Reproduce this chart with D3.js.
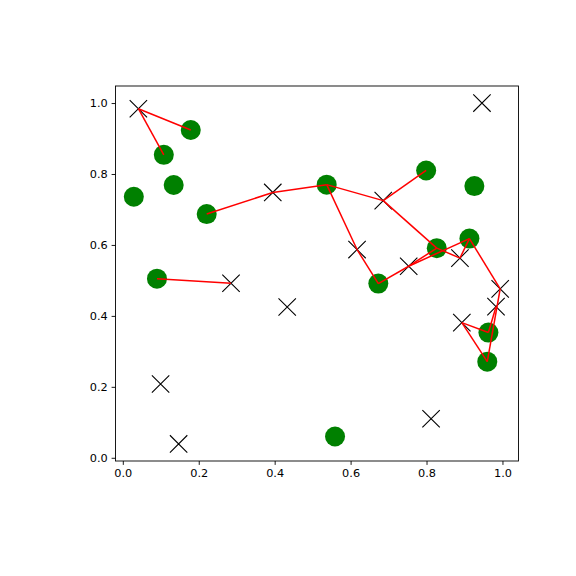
<!DOCTYPE html>
<html>
<head>
<meta charset="utf-8">
<script src="https://cdn.jsdelivr.net/npm/d3@7"></script>
<style>
  body { margin: 0; background: #fff; }
  text { font-family: "DejaVu Sans", sans-serif; }
</style>
</head>
<body>
<div id="chart"></div>
<script>
// green circles
var circleX = [0.179, 0.108, 0.134, 0.029, 0.221, 0.090, 0.537, 0.799, 0.926, 0.827, 0.913, 0.673, 0.963, 0.960, 0.559];
var circleY = [0.924, 0.854, 0.769, 0.736, 0.687, 0.505, 0.770, 0.810, 0.766, 0.591, 0.618, 0.491, 0.353, 0.271, 0.060];

// black crosses
var crossX = [0.041, 0.395, 0.946, 0.686, 0.617, 0.753, 0.888, 0.285, 0.433, 0.0995, 0.147, 0.994, 0.983, 0.893, 0.812];
var crossY = [0.984, 0.748, 1.000, 0.725, 0.587, 0.540, 0.563, 0.492, 0.425, 0.208, 0.039, 0.476, 0.426, 0.381, 0.110];

// red links: [circle index, cross index]
var links = [[0, 0], [1, 0], [4, 1], [6, 1], [6, 3], [7, 3], [9, 3], [6, 4], [11, 4],
	[11, 5], [9, 5], [10, 5], [9, 6], [10, 6], [10, 11], [13, 11], [12, 12],
	[12, 13], [13, 13], [5, 7]];

var ticks = [0.0, 0.2, 0.4, 0.6, 0.8, 1.0];

var width = 576,
	height = 576,
	plotLeft = 115.5,
	plotTop = 86,
	plotW = 403,
	plotH = 375;

var svg = d3.select("#chart")
	.append("svg")
	.attr("width", width)
	.attr("height", height);

// 5% margins like matplotlib
function padded(vals) {
	var e = d3.extent(vals), m = (e[1] - e[0]) * 0.05;
	return [e[0] - m, e[1] + m];
}
var allX = circleX.concat(crossX), allY = circleY.concat(crossY);

var x = d3.scaleLinear().domain(padded(allX)).range([plotLeft, plotLeft + plotW]);
var y = d3.scaleLinear().domain(padded(allY)).range([plotTop + plotH, plotTop]);

var g = svg.append("g");

// circles
g.selectAll("circle.pt")
	.data(d3.range(circleX.length))
	.enter()
	.append("circle")
	.attr("cx", function(i) { return x(circleX[i]); })
	.attr("cy", function(i) { return y(circleY[i]); })
	.attr("r", 10)
	.attr("fill", "green");

// crosses
var s = 8.7;
g.selectAll("path.cross")
	.data(d3.range(crossX.length))
	.enter()
	.append("path")
	.attr("d", function(i) {
		var cx = x(crossX[i]), cy = y(crossY[i]);
		return "M" + (cx - s) + "," + (cy - s) + "L" + (cx + s) + "," + (cy + s) +
			"M" + (cx - s) + "," + (cy + s) + "L" + (cx + s) + "," + (cy - s);
	})
	.attr("stroke", "black")
	.attr("stroke-width", 1.1)
	.attr("fill", "none");

// links
g.selectAll("line.link")
	.data(links)
	.enter()
	.append("line")
	.attr("x1", function(d) { return x(circleX[d[0]]); })
	.attr("y1", function(d) { return y(circleY[d[0]]); })
	.attr("x2", function(d) { return x(crossX[d[1]]); })
	.attr("y2", function(d) { return y(crossY[d[1]]); })
	.attr("stroke", "red")
	.attr("stroke-width", 1.5);

// axes
var xAxis = d3.axisBottom(x).tickValues(ticks).tickFormat(d3.format(".1f")).tickSizeOuter(0).tickSize(3.9).tickPadding(3.9);
var yAxis = d3.axisLeft(y).tickValues(ticks).tickFormat(d3.format(".1f")).tickSizeOuter(0).tickSize(3.9).tickPadding(3.9);

var gx = svg.append("g").attr("transform", "translate(0," + (plotTop + plotH) + ")").call(xAxis);
var gy = svg.append("g").attr("transform", "translate(" + plotLeft + ",0)").call(yAxis);
[gx, gy].forEach(function(a) {
	a.select(".domain").remove();
	a.selectAll("line").attr("stroke", "black").attr("stroke-width", 0.9);
	a.selectAll("text").attr("font-size", 11.3).attr("fill", "black")
		.style("font-family", "'DejaVu Sans', sans-serif");
});

// frame
svg.append("rect")
	.attr("x", plotLeft)
	.attr("y", plotTop)
	.attr("width", plotW)
	.attr("height", plotH)
	.attr("fill", "none")
	.attr("stroke", "black")
	.attr("stroke-width", 0.9);
</script>
</body>
</html>
